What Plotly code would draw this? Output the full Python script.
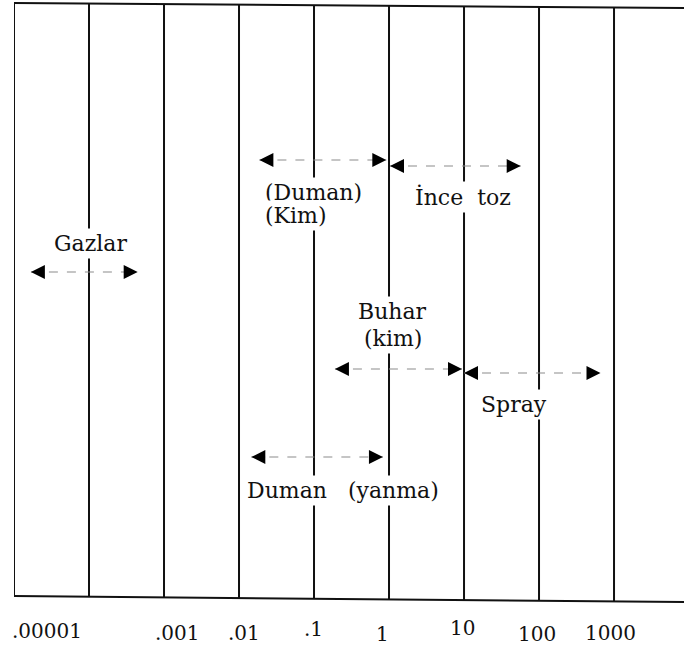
import math
import plotly.graph_objects as go

# ---- data ----
decades = [1e-5, 1e-4, 1e-3, 1e-2, 1e-1, 1, 10, 100, 1000]
tick_labels = [".00001", "", ".001", ".01", ".1", "1", "10", "100", "1000"]

range_names = ["Gazlar", "(Duman) (Kim)", "İnce toz", "Buhar (kim)", "Spray", "Duman (yanma)"]
range_low = [1.68e-5, 0.0187, 1.03, 0.19, 10.0, 0.0146]
range_high = [4.46e-4, 0.92, 57.0, 9.4, 660.0, 0.83]

# ---- layout / style (positions kept separately) ----
X_MIN, X_MAX = -5, 3.933
TOP_L, TOP_R = 3, 8          # slightly tilted scan border
BOT_L, BOT_R = 596, 602
row_y = [272, 160, 166, 369, 373, 457]
FONT = "DejaVu Serif"
label_specs = [
    # text, x (value), y (row), xanchor
    ("Gazlar", 1.05e-4, 243, "center"),
    ("(Duman)", 0.0205, 192, "left"),
    ("(Kim)", 0.0205, 215, "left"),
    ("İnce\u00a0\u00a0toz", 9.6, 197, "center"),
    ("Buhar", 1.12, 311, "center"),
    ("(kim)", 1.12, 338, "center"),
    ("Spray", 46.0, 404, "center"),
    ("Duman\u00a0\u00a0\u00a0(yanma)", 0.245, 490, "center"),
]
tick_xshift = [33, 0, 13, 5, -1, -7, -2, -2, -4]
tick_y = [631, 631, 633, 633, 629, 634, 628, 634, 633]


def edge(lx, left, right):
    f = (lx - X_MIN) / (X_MAX - X_MIN)
    return left + (right - left) * f


fig = go.Figure()

# arrows: dashed line + arrow heads
for lo, hi, yy, name in zip(range_low, range_high, row_y, range_names):
    fig.add_trace(go.Scatter(
        x=[lo, hi], y=[yy, yy], mode="lines",
        line=dict(color="#8c8c8c", width=1.2, dash="dash"),
        hoverinfo="skip", showlegend=False, name=name))
    fig.add_trace(go.Scatter(
        x=[lo, hi], y=[yy, yy], mode="markers",
        marker=dict(symbol=["arrow-left", "arrow-right"], size=14, color="black",
                    line=dict(width=0)),
        hoverinfo="skip", showlegend=False, name=name, cliponaxis=False))

line_style = dict(color="#111", width=2)
shapes = []
for d in decades:
    lx = math.log10(d)
    shapes.append(dict(type="line", xref="x", yref="y", x0=d, x1=d,
                       y0=edge(lx, TOP_L, TOP_R), y1=edge(lx, BOT_L, BOT_R),
                       line=line_style, layer="below"))
shapes.append(dict(type="line", xref="x", yref="y", x0=decades[0], x1=10**X_MAX,
                   y0=TOP_L, y1=TOP_R, line=line_style, layer="below"))
shapes.append(dict(type="line", xref="x", yref="y", x0=decades[0], x1=10**X_MAX,
                   y0=BOT_L, y1=BOT_R, line=line_style, layer="below"))

annotations = []
for text, x, y, xa in label_specs:
    annotations.append(dict(x=math.log10(x), y=y, xref="x", yref="y", text=text, showarrow=False,
                            xanchor=xa, yanchor="middle",
                            font=dict(family=FONT, size=22, color="#111"),
                            bgcolor="white", borderpad=2))
for d, t, xs, ty in zip(decades, tick_labels, tick_xshift, tick_y):
    if t:
        annotations.append(dict(x=math.log10(d), y=ty, xref="x", yref="y", text=t, showarrow=False,
                                xanchor="center", yanchor="middle", xshift=xs,
                                font=dict(family=FONT, size=20, color="#111")))

fig.update_layout(
    width=684, height=649,
    margin=dict(l=14, r=0, t=0, b=0, autoexpand=False),
    paper_bgcolor="white", plot_bgcolor="white",
    xaxis=dict(type="log", range=[X_MIN, X_MAX], showgrid=False, zeroline=False,
               showticklabels=False, ticks="", showline=False, fixedrange=True),
    yaxis=dict(range=[649, 0], showgrid=False, zeroline=False, showticklabels=False,
               ticks="", showline=False, fixedrange=True),
    shapes=shapes, annotations=annotations, showlegend=False,
)

fig.write_html("out.html", config={"displayModeBar": False, "staticPlot": True},
               post_script="document.body.style.margin='0';")
